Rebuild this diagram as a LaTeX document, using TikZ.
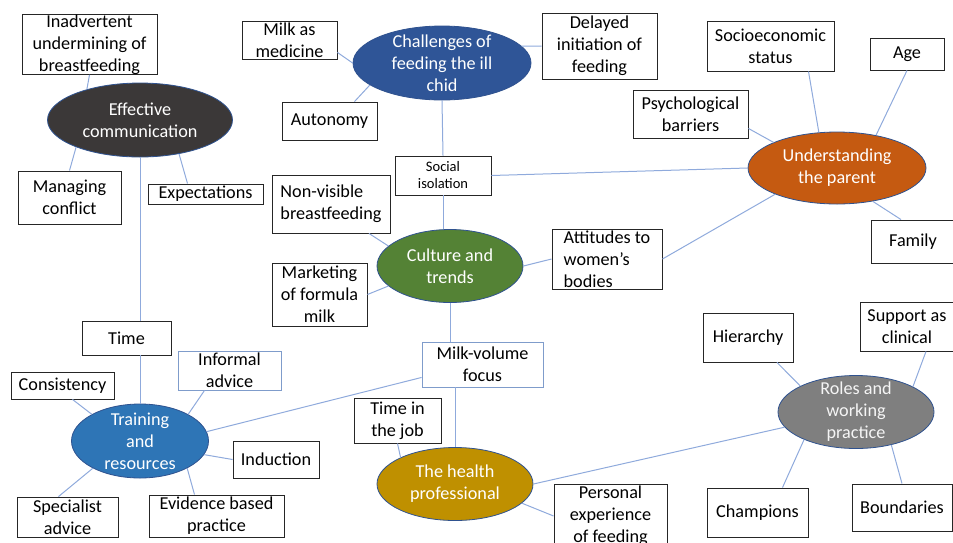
\documentclass[tikz,border=0pt]{standalone}
\usepackage{fontspec}
\setmainfont{Carlito}
\usepackage{tikz}
\usetikzlibrary{shapes.geometric}

\definecolor{linkblue}{HTML}{8FAADC}
\definecolor{rimblue}{HTML}{2F528F}
\definecolor{boxblue}{HTML}{7F9CCB}
\definecolor{commgray}{HTML}{3B3838}
\definecolor{illblue}{HTML}{2F5597}
\definecolor{parentorange}{HTML}{C55A11}
\definecolor{culturegreen}{HTML}{548235}
\definecolor{trainblue}{HTML}{2E75B6}
\definecolor{healthgold}{HTML}{BF9000}
\definecolor{rolegray}{HTML}{7F7F7F}

\begin{document}
\begin{tikzpicture}[x=1pt, y=-1pt,
      theme/.style={ellipse, draw=rimblue, line width=0.8pt, text=white,
         inner sep=-10pt, align=center, font=\fontsize{18.2}{22}\selectfont},
      factor/.style={rectangle, draw=black!85, line width=0.9pt, fill=white,
         inner sep=0pt, align=center, font=\fontsize{18.2}{22}\selectfont},
      link/.style={linkblue, line width=1pt}]
      \useasboundingbox (0,0) rectangle (953,542);
      \clip (0,0) rectangle (953,542);

      % themes
      \node (ec) at (140,120) [theme, fill=commgray,
         minimum width=185pt, minimum height=74pt] {Effective\\communication};
      \node (chal) at (442,63) [theme, fill=illblue,
         minimum width=178pt, minimum height=74pt] {Challenges of\\feeding the ill\\chid};
      \node (und) at (837,168) [theme, fill=parentorange,
         minimum width=178pt, minimum height=72pt] {Understanding\\the parent};
      \node (cult) at (450,266) [theme, fill=culturegreen,
         minimum width=146pt, minimum height=73pt] {Culture and\\trends};
      \node (train) at (140,441) [theme, fill=trainblue,
         minimum width=137pt, minimum height=74pt] {Training\\and\\resources};
      \node (hp) at (455,484) [theme, fill=healthgold,
         minimum width=156pt, minimum height=73pt] {The health\\professional};
      \node (roles) at (856,412) [theme, fill=rolegray, text=white!92!gray,
         minimum width=156pt, minimum height=73pt] {Roles and\\working\\practice};

      % factors
      \node (inad) at (89.5,44.5) [factor, minimum width=135pt, minimum height=59pt]
         {Inadvertent\\undermining of\\breastfeeding};
      \node (manage) at (69.5,197.5) [factor, minimum width=103pt, minimum height=53pt]
         {Managing\\conflict};
      \node (expect) at (205.5,194) [factor, minimum width=115pt, minimum height=20pt]
         {Expectations};
      \node (milkmed) at (289.5,40) [factor, minimum width=95pt, minimum height=38pt]
         {Milk as\\medicine};
      \node (delayed) at (599.5,46) [factor, minimum width=115pt, minimum height=66pt]
         {Delayed\\initiation of\\feeding};
      \node (auton) at (329.5,121) [factor, minimum width=95pt, minimum height=38pt]
         {Autonomy};
      \node (socio) at (770.5,46) [factor, minimum width=127pt, minimum height=50pt]
         {Socioeconomic\\status};
      \node (age) at (907,54) [factor, minimum width=74pt, minimum height=32pt]
         {Age};
      \node (psych) at (690.5,114) [factor, minimum width=115pt, minimum height=48pt]
         {Psychological\\barriers};
      \node (family) at (913,241.5) [factor, minimum width=84pt, minimum height=43pt]
         {Family};
      \node (social) at (443,175.5) [factor, minimum width=96pt, minimum height=39pt,
         font=\fontsize{14.5}{17}\selectfont] {Social\\isolation};
      \node (nonvis) at (331,204) [factor, align=left, minimum width=118pt, minimum height=58pt]
         {Non-visible\\breastfeeding};
      \node (market) at (319.5,294.5) [factor, minimum width=95pt, minimum height=63pt]
         {Marketing\\of formula\\milk};
      \node (attit) at (607,259) [factor, align=left, minimum width=110pt, minimum height=60pt]
         {Attitudes to\\women’s\\bodies};
      \node (time) at (126.5,338) [factor, minimum width=89pt, minimum height=34pt]
         {Time};
      \node (informal) at (229.5,370.5) [factor, draw=boxblue, minimum width=103pt,
         minimum height=39pt] {Informal\\advice};
      \node (consist) at (62.5,385.5) [factor, minimum width=103pt, minimum height=27pt]
         {Consistency};
      \node (induct) at (276,459.5) [factor, minimum width=86pt, minimum height=37pt]
         {Induction};
      \node (special) at (67.5,517) [factor, minimum width=101pt, minimum height=40pt]
         {Specialist\\advice};
      \node (evid) at (216.5,516) [factor, minimum width=135pt, minimum height=42pt]
         {Evidence based\\practice};
      \node (mvf) at (482.5,364.5) [factor, draw=boxblue, minimum width=121pt,
         minimum height=45pt] {Milk-volume\\focus};
      \node (tij) at (397.5,420.5) [factor, minimum width=87pt, minimum height=45pt]
         {Time in\\the job};
      \node (pers) at (610.5,516) [factor, minimum width=113pt, minimum height=64pt]
         {Personal\\experience\\of feeding};
      \node (hier) at (748,337.5) [factor, minimum width=90pt, minimum height=49pt]
         {Hierarchy};
      \node (support) at (907,326.5) [factor, minimum width=94pt, minimum height=49pt]
         {Support as\\clinical};
      \node (champ) at (757.5,512.5) [factor, minimum width=101pt, minimum height=49pt]
         {Champions};
      \node (bound) at (902,507.5) [factor, minimum width=100pt, minimum height=47pt]
         {Boundaries};

      % links
      \draw [link] (inad.south) -- (ec.150);
      \draw [link] (manage.north) -- (ec.203);
      \draw [link] ([xshift=-18pt]expect.north) -- (ec.319);
      \draw [link] (ec.south) -- (ec.south |- time.north);
      \draw [link] (ec.south |- time.south) -- (train.north);

      \draw [link] ([yshift=7pt]milkmed.south east) -- (chal.west);
      \draw [link] (delayed.west) -- (chal.12);
      \draw [link] ([xshift=25pt]auton.north) -- (chal.197);
      \draw [link] (chal.south) -- (social.north);

      \draw [link] (social.east) -- (und.west);
      \draw [link] (social.south) -- (social.south |- cult.north);
      \draw [link] ([yshift=10pt]psych.south east) -- (und.158);
      \draw [link] ([xshift=38pt]socio.south) -- (und.117);
      \draw [link] (age.south) -- (und.40);
      \draw [link] ([xshift=-12pt]family.north) -- (und.317);
      \draw [link] (attit.east) -- (und.203);

      \draw [link] ([xshift=38pt]nonvis.south) -- (cult.162);
      \draw [link] (market.east) -- (cult.198);
      \draw [link] (cult.east) -- (attit.west);
      \draw [link] (cult.south) -- (cult.south |- mvf.north);

      \draw [link] ([yshift=10pt]mvf.south west) -- (train.8);
      \draw [link] (hp.north |- mvf.south) -- (hp.north);
      \draw [link] (tij.south) -- (hp.154);
      \draw [link] (hp.344) -- (pers.west);
      \draw [link] (hp.east) -- (roles.192);

      \draw [link] ([xshift=29pt]hier.south) -- (roles.155);
      \draw [link] ([xshift=19pt]support.south) -- (roles.24);
      \draw [link] ([xshift=25pt]champ.north) -- (roles.208);
      \draw [link] (bound.north) -- (roles.317);

      \draw [link] ([xshift=10pt]consist.south) -- (train.151);
      \draw [link] ([xshift=-25pt]informal.south) -- (train.29);
      \draw [link] (train.348) -- (induct.west);
      \draw [link] (train.330) -- ([xshift=-22pt]evid.north);
      \draw [link] (train.210) -- ([xshift=-9pt]special.north);
   \end{tikzpicture}
\end{document}
